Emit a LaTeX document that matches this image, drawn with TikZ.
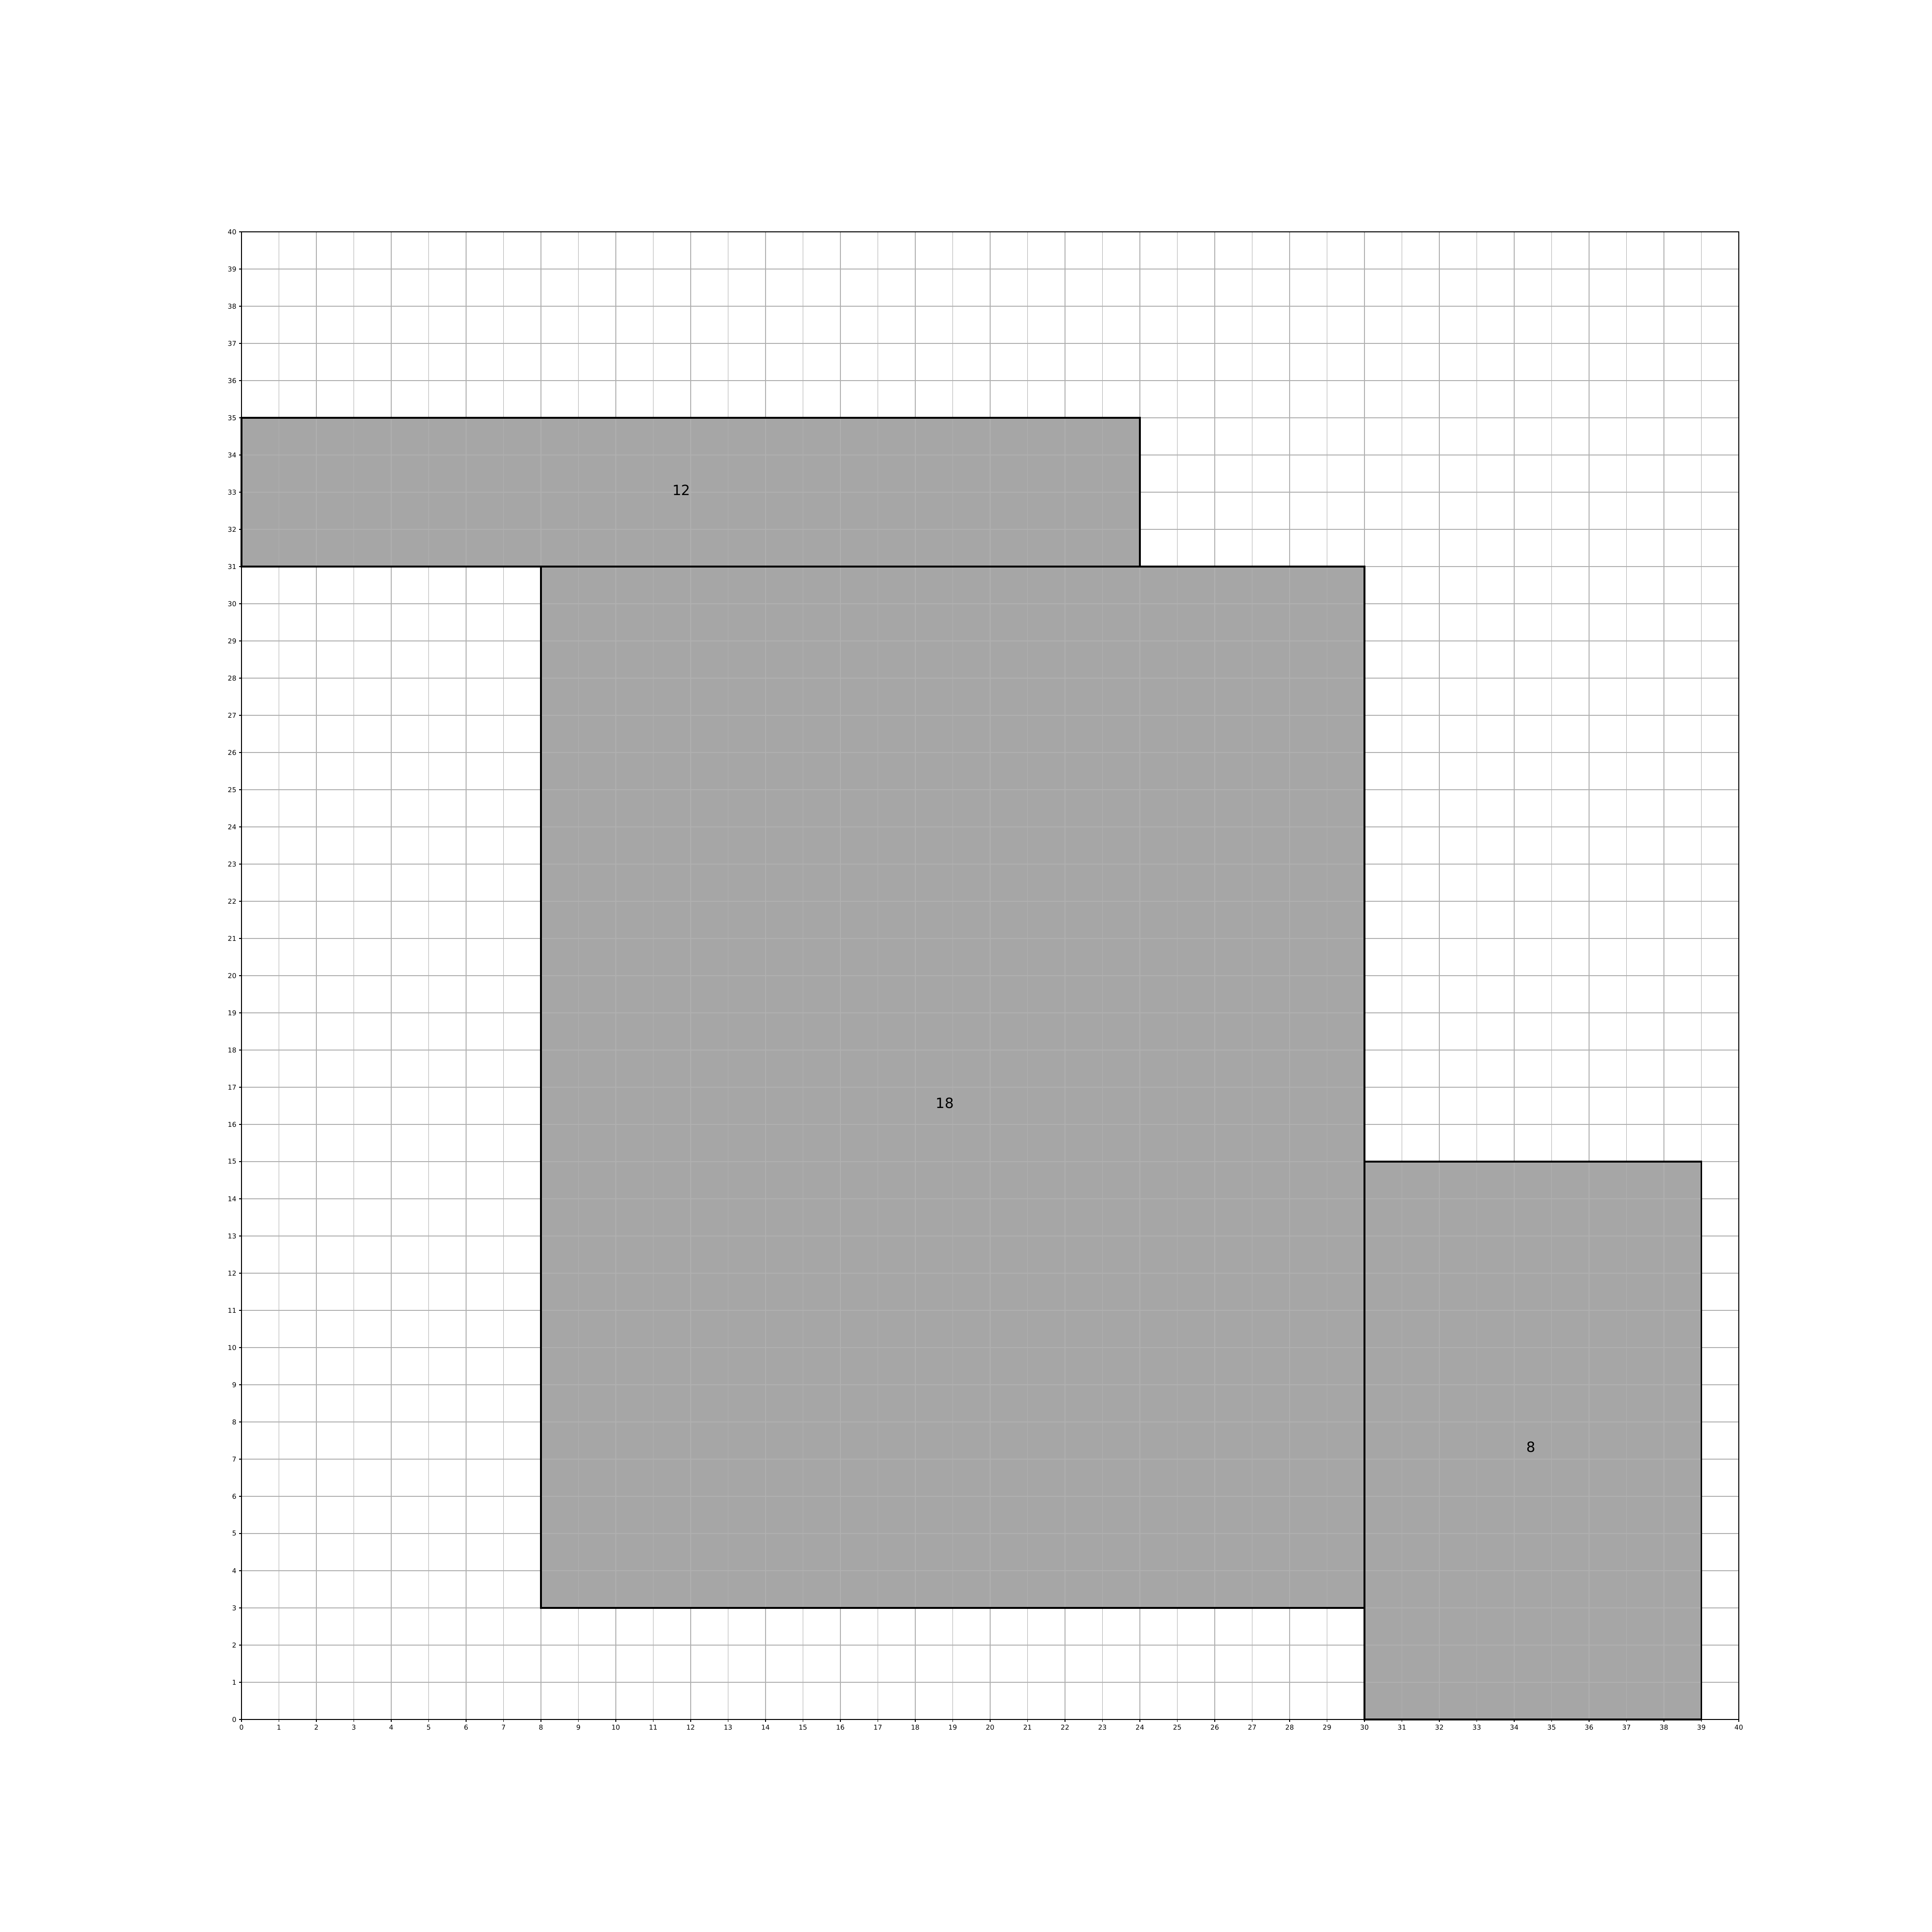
\documentclass[tikz,border=0pt]{standalone}
\usepackage{fontspec}
\setmainfont{DejaVu Sans}
\definecolor{gridc}{HTML}{B0B0B0}
\definecolor{fillc}{HTML}{A6A6A6}
\begin{document}
\begin{tikzpicture}[x=0.775cm,y=0.77cm,
  gridline/.style={draw=gridc,line width=0.32pt},
  boxfill/.style={fill=fillc},
  boxedge/.style={draw=black,line width=0.9pt},
  spine/.style={draw=black,line width=0.32pt},
  tickmark/.style={draw=black,line width=0.32pt},
  xticklab/.style={anchor=north,inner sep=0pt,font=\fontsize{3.95pt}{4.5pt}\selectfont},
  yticklab/.style={anchor=east,inner sep=0pt,font=\fontsize{3.95pt}{4.5pt}\selectfont},
  boxlab/.style={anchor=center,inner sep=0pt,font=\fontsize{8.3pt}{9.5pt}\selectfont}]
\useasboundingbox (-5cm,-4.4cm) rectangle (35cm,35.6cm);
\fill[white] (-5cm,-4.4cm) rectangle (35cm,35.6cm);
% box fills
\path[boxfill] (0,31) rectangle (24,35);
\path[boxfill] (8,3) rectangle (30,31);
\path[boxfill] (30,0) rectangle (39,15);
% grid
\foreach \i in {1,...,39} {
  \draw[gridline] (\i,0) -- (\i,40);
  \draw[gridline] (0,\i) -- (40,\i);
}
% box edges
\draw[boxedge] (0,31) rectangle (24,35);
\draw[boxedge] (8,3) rectangle (30,31);
\draw[boxedge] (30,0) rectangle (39,15);
% labels
\node[boxlab] (l12) at (9.107cm,25.452cm) {12};
\node[boxlab] (l18) at (14.562cm,12.763cm) {18};
\node[boxlab] (l8) at (26.698cm,5.642cm) {8};
% spines
\draw[spine] (0,0) rectangle (40,40);
% ticks
\foreach \i in {0,...,40} {
  \draw[tickmark] (\i,0) -- ++(0,-0.486mm);
  \node[xticklab] (xt\i) at ([yshift=-1.07mm]\i,0) {\i};
  \draw[tickmark] (0,\i) -- ++(-0.486mm,0);
  \node[yticklab] (yt\i) at ([xshift=-0.99mm]0,\i) {\i};
}
\end{tikzpicture}
\end{document}
